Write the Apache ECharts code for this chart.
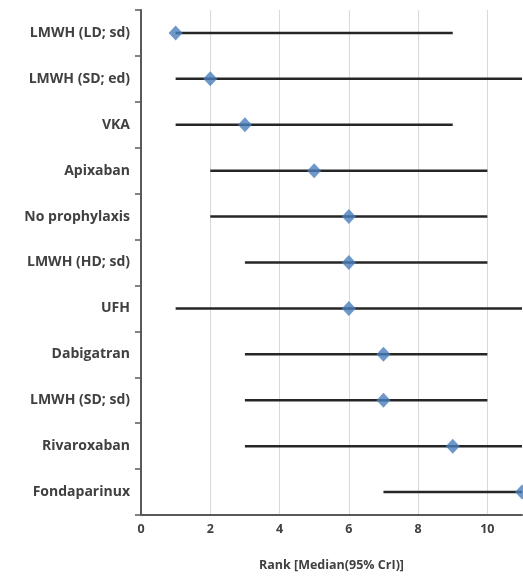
<!DOCTYPE html>
<html>
<head>
<meta charset="utf-8">
<script src="https://cdn.jsdelivr.net/npm/echarts@6/dist/echarts.min.js"></script>
<style>
  html, body { margin: 0; padding: 0; background: #fff; }
  #chart { width: 523px; height: 577px; }
</style>
</head>
<body>
<div id="chart"></div>
<script>
// treatments, top to bottom
var treatments = ["LMWH (LD; sd)", "LMWH (SD; ed)", "VKA", "Apixaban", "No prophylaxis",
  "LMWH (HD; sd)", "UFH", "Dabigatran", "LMWH (SD; sd)", "Rivaroxaban", "Fondaparinux"];
var medianRank = [1, 2, 3, 5, 6, 6, 6, 7, 7, 9, 11];
var lowerCrI = [1, 1, 1, 2, 2, 3, 1, 3, 3, 3, 7];
var upperCrI = [9, 11, 9, 10, 10, 10, 11, 10, 10, 11, 11];

var chart = echarts.init(document.getElementById("chart"));

var intervalData = treatments.map(function (t, i) {
  return [lowerCrI[i], upperCrI[i], i];
});
var medianData = treatments.map(function (t, i) {
  return [medianRank[i], i];
});

var option = {
  animation: false,
  grid: { left: 141, right: 1, top: 10, bottom: 60 },
  xAxis: {
    type: "value",
    min: 0,
    max: 11,
    interval: 2,
    name: "Rank [Median(95% CrI)]",
    nameLocation: "middle",
    nameGap: 44,
    nameTextStyle: { color: "#404040", fontWeight: "bold", fontSize: 12.5, fontFamily: "Open Sans" },
    axisLine: { show: true, lineStyle: { color: "#595959", width: 2 } },
    axisTick: { show: false },
    axisLabel: {
      color: "#404040", fontWeight: "bold", fontSize: 12.5, fontFamily: "Open Sans", margin: 8,
      showMaxLabel: false
    },
    splitLine: { show: true, showMaxLine: false, lineStyle: { color: "#d9d9d9", width: 1 } }
  },
  yAxis: {
    type: "category",
    data: treatments,
    inverse: true,
    axisLine: { show: true, lineStyle: { color: "#595959", width: 2 } },
    axisTick: { show: true, length: 6, lineStyle: { color: "#595959", width: 1.5 } },
    axisLabel: { color: "#404040", fontWeight: "bold", fontSize: 14, fontFamily: "Open Sans", margin: 11 },
    splitLine: { show: false }
  },
  series: [
    {
      type: "custom",
      data: intervalData,
      encode: { x: [0, 1], y: 2 },
      renderItem: function (params, api) {
        var a = api.coord([api.value(0), api.value(2)]);
        var b = api.coord([api.value(1), api.value(2)]);
        return {
          type: "line",
          shape: { x1: a[0], y1: a[1], x2: b[0], y2: b[1] },
          style: { stroke: "#262626", lineWidth: 2.5 }
        };
      },
      z: 2
    },
    {
      type: "scatter",
      data: medianData,
      symbol: "diamond",
      symbolSize: [14, 15],
      itemStyle: { color: "#4a7ebb" },
      z: 3
    }
  ]
};

chart.setOption(option);
</script>
</body>
</html>
